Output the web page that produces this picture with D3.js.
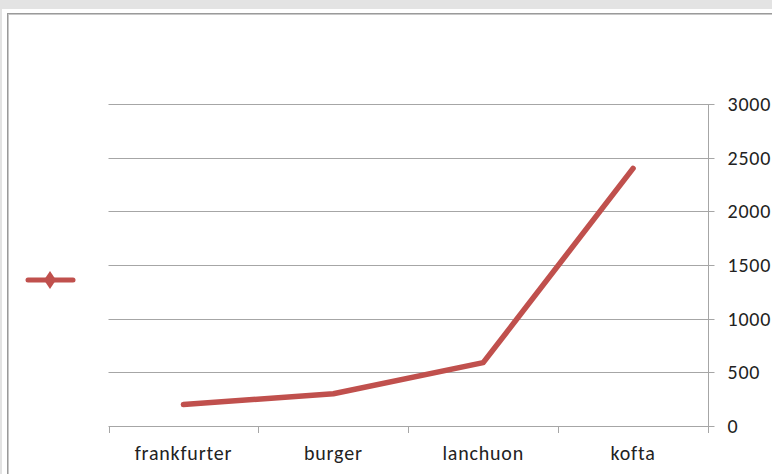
<!DOCTYPE html>
<html><head><meta charset="utf-8">
<script src="https://cdn.jsdelivr.net/npm/d3@7"></script>
<style>html,body{margin:0;padding:0;background:#e3e3e3;overflow:hidden}</style>
</head><body>
<svg id="c" width="772" height="474"></svg>
<script>
const categories = ["frankfurter", "burger", "lanchuon", "kofta"];
const values = [200, 300, 590, 2400];
const yTicks = [0, 500, 1000, 1500, 2000, 2500, 3000];
const seriesColor = "#c0504d";

(function () {
const svg = d3.select("#c");
svg.append("rect").attr("x", 2).attr("y", 9).attr("width", 770).attr("height", 465).attr("fill", "#fff");
svg.append("rect").attr("x", 7.5).attr("y", 13.5).attr("width", 780).attr("height", 480)
  .attr("fill", "none").attr("stroke", "#9a9a9a").attr("stroke-width", 1);
svg.append("rect").attr("x", 8.5).attr("y", 14.5).attr("width", 780).attr("height", 480)
  .attr("fill", "none").attr("stroke", "#c8c8c8").attr("stroke-width", 1);

const pL = 108.5, pR = 708, pT = 104, pB = 426;
const x = d3.scaleBand().domain(categories).range([pL, pR]);
const y = d3.scaleLinear().domain([0, 3000]).range([pB, pT]);

const font = "Carlito, Calibri, 'Liberation Sans', sans-serif";

// gridlines
svg.append("g").selectAll("line").data(yTicks.filter(d => d > 0)).join("line")
  .attr("x1", pL).attr("x2", pR)
  .attr("y1", d => Math.round(y(d)) + 0.5).attr("y2", d => Math.round(y(d)) + 0.5)
  .attr("stroke", "#a6a6a6").attr("stroke-width", 1);

// right y axis
const yAxis = svg.append("g").attr("transform", `translate(${pR + 0.5},0)`)
  .call(d3.axisRight(y).tickValues(yTicks).tickSize(6).tickPadding(13).tickFormat(d3.format("d")));
yAxis.select(".domain").attr("stroke", "#a6a6a6").attr("d", `M0,${pT}V${pB + 7}`);
yAxis.selectAll(".tick line").attr("stroke", "#a6a6a6").attr("x1", 0).attr("x2", 6);
yAxis.selectAll(".tick").attr("transform", d => `translate(0,${Math.round(y(d)) + 0.5})`);
yAxis.selectAll("text").attr("font-family", font).attr("font-size", 20).attr("letter-spacing", "0.8px")
  .attr("fill", "#222").attr("dy", "0.33em");

// x axis
const xAxis = svg.append("g").attr("transform", `translate(0,${pB + 0.5})`)
  .call(d3.axisBottom(x).tickSize(0).tickPadding(19));
xAxis.select(".domain").attr("stroke", "#a6a6a6").attr("d", `M${pL},0H${pR}`);
xAxis.selectAll("text").attr("font-family", font).attr("font-size", 20).attr("letter-spacing", "0.8px")
  .attr("fill", "#222");
const bounds = categories.map(c => x(c)).concat([pR]);
svg.append("g").selectAll("line").data(bounds).join("line")
  .attr("x1", d => Math.round(d) + 0.5).attr("x2", d => Math.round(d) + 0.5)
  .attr("y1", pB).attr("y2", pB + 7)
  .attr("stroke", "#a6a6a6");

// series line
const line = d3.line().x((d, i) => x(categories[i]) + x.bandwidth() / 2).y(d => y(d));
svg.append("path").datum(values).attr("d", line)
  .attr("fill", "none").attr("stroke", seriesColor).attr("stroke-width", 5.5)
  .attr("stroke-linecap", "round").attr("stroke-linejoin", "round");

// legend
const lg = svg.append("g").attr("transform", "translate(50,280)");
lg.append("line").attr("x1", -22).attr("x2", 23).attr("y1", 0).attr("y2", 0)
  .attr("stroke", seriesColor).attr("stroke-width", 5).attr("stroke-linecap", "round");
lg.append("path").attr("d", d3.symbol(d3.symbolDiamond, 95)()).attr("fill", seriesColor)
  .attr("transform", "scale(1.15,1)");
})();
</script>
</body></html>
